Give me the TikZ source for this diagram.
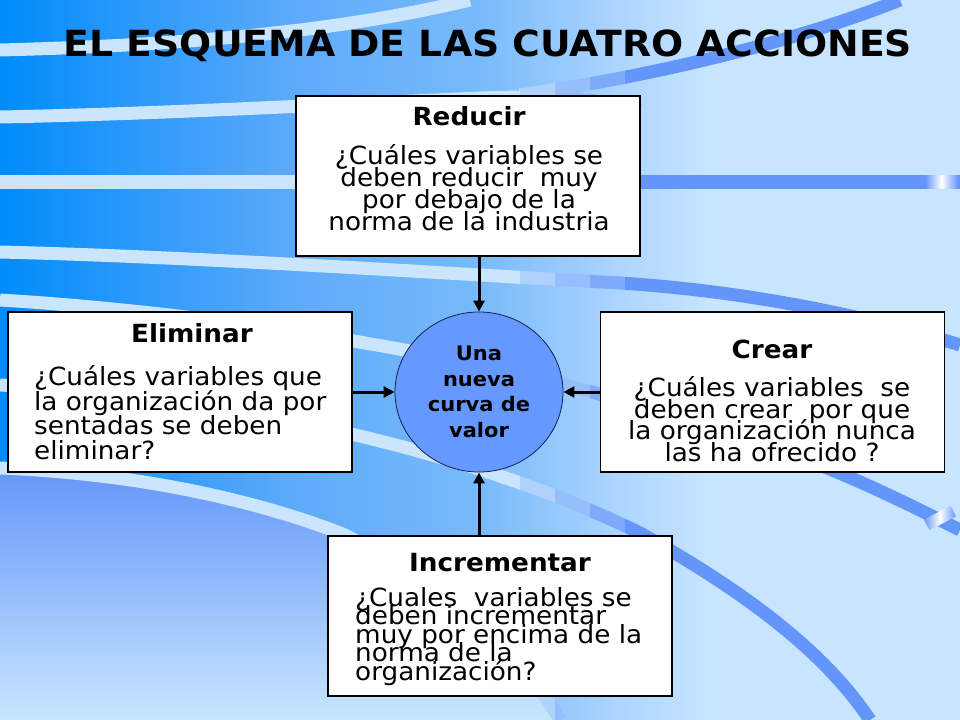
\documentclass[tikz,border=0pt]{standalone}
\usepackage{fontspec}
\setmainfont[FakeStretch=1.05]{DejaVu Sans}
\usetikzlibrary{arrows.meta,shapes.geometric}
\definecolor{bglight}{RGB}{200,230,255}
\definecolor{bandlight}{RGB}{202,229,252}
\definecolor{bandmid}{RGB}{100,150,250}
\definecolor{bandmixa}{RGB}{175,210,252}
\definecolor{bandmixb}{RGB}{150,190,252}
\definecolor{bandmixc}{RGB}{125,170,251}
\definecolor{lowtop}{RGB}{100,150,250}
\definecolor{circfill}{RGB}{102,153,255}
\definecolor{circline}{RGB}{20,30,80}
\pgfdeclarehorizontalshading{bgshade}{100bp}{rgb(0bp)=(0,0.55,0.98); rgb(25bp)=(0,0.55,0.98); rgb(33.3bp)=(0.2,0.61,0.98); rgb(40.6bp)=(0.37,0.67,0.98); rgb(50bp)=(0.47,0.73,0.98); rgb(57bp)=(0.67,0.83,1); rgb(62bp)=(0.78,0.9,1); rgb(100bp)=(0.78,0.9,1)}
\newcommand{\drawbands}[1]{%
  \draw[band,#1] (0,50) .. controls (150,46) and (320,36) .. (470,0);
  \draw[band,#1] (0,117) .. controls (150,114) and (300,106) .. (480,98) .. controls (560,95) and (600,100) .. (640,110);
  \draw[band,#1] (0,182) -- (960,182);
  \draw[band,#1] (0,252) .. controls (200,257) and (420,272) .. (620,283) .. controls (760,292) and (880,320) .. (960,345);
  \draw[band,#1] (0,300) .. controls (200,312) and (450,350) .. (620,400) .. controls (700,425) and (800,440) .. (900,450);
  \draw[band,#1] (0,385) .. controls (200,395) and (450,440) .. (640,533) .. controls (760,600) and (830,660) .. (870,720);
  \draw[band,#1] (0,468) .. controls (150,474) and (270,505) .. (345,535) .. controls (450,590) and (520,650) .. (560,720);
  \draw[band,#1] (520,95) .. controls (660,75) and (800,40) .. (900,0);
  \draw[band,#1] (780,450) .. controls (850,475) and (900,500) .. (960,530);
}
\begin{document}
\begin{tikzpicture}[x=1bp,y=-1bp,
  band/.style={line width=13bp},
  box/.style={draw=black,fill=white,line width=1.2bp,minimum width=344bp,minimum height=160bp,inner sep=0},
  valorbox/.style={ellipse,draw=circline,fill=circfill,line width=0.8bp,minimum width=168bp,minimum height=160bp,inner sep=0,align=center,
    font={\lineskiplimit=-50bp\bfseries\fontsize{20bp}{25.5bp}\selectfont}},
  arr/.style={line width=3bp,-{Triangle[length=11bp,width=11bp]}},
  txt/.style={inner sep=0,font=\fontsize{25bp}{22bp}\selectfont},
  head/.style={inner sep=0,font=\bfseries\fontsize{25bp}{22bp}\selectfont}]
\useasboundingbox (0,0) rectangle (960,720);
% background
\shade[shading=bgshade] (0,0) rectangle (960,720);
\shade[top color=lowtop,bottom color=bglight] (0,468) .. controls (150,474) and (270,505) .. (345,535) .. controls (450,590) and (520,650) .. (560,720) -- (0,720) -- cycle;
\begin{scope}
  \clip (0,0) rectangle (520,720);
  \drawbands{bandlight}
\end{scope}
\begin{scope}
  \clip (520,0) rectangle (555,720);
  \drawbands{bandmixa}
\end{scope}
\begin{scope}
  \clip (555,0) rectangle (590,720);
  \drawbands{bandmixb}
\end{scope}
\begin{scope}
  \clip (590,0) rectangle (625,720);
  \drawbands{bandmixc}
\end{scope}
\begin{scope}
  \clip (625,0) rectangle (960,720);
  \drawbands{bandmid}
\end{scope}
\shade[left color=bandmid,right color=bandmid,middle color=white] (925,175.5) rectangle (958,188.5);
\shade[left color=bandmid,right color=bandmid,middle color=white,shading angle=90,rotate around={27:(940,518)}] (925,512) rectangle (955,524);
% title
\node[inner sep=0,anchor=base,font=\bfseries\fontsize{36bp}{40bp}\selectfont] (title) at (488,57) {EL ESQUEMA DE LAS CUATRO ACCIONES};
% boxes
\node[box] (reducir) at (468,176) {};
\node[box] (elim) at (180,392) {};
\node[box] (crear) at (772.5,392) {};
\node[box] (incr) at (500,616) {};
\node[valorbox] (valor) at (479,392) {Una\\nueva\\curva de\\valor};
% arrows
\draw[arr] (valor.north |- reducir.south) -- (valor.north);
\draw[arr] (elim.east |- valor.west) -- (valor.west);
\draw[arr] (crear.west |- valor.east) -- (valor.east);
\draw[arr] (valor.south |- incr.north) -- (valor.south);
% Reducir
\node[head,anchor=base] (r0) at (469,126) {Reducir};
\node[txt,anchor=base] (r1) at (469,165) {¿Cuáles variables se};
\node[txt,anchor=base] (r2) at (469,187) {deben reducir\ \ muy};
\node[txt,anchor=base] (r3) at (469,208) {por debajo de la};
\node[txt,anchor=base] (r4) at (469,230) {norma de la industria};
% Eliminar
\node[head,anchor=base] (e0) at (192,342) {Eliminar};
\node[txt,anchor=base west] (e1) at (34,385) {¿Cuáles variables que};
\node[txt,anchor=base west] (e2) at (34,410) {la organización da por};
\node[txt,anchor=base west] (e3) at (34,434) {sentadas se deben};
\node[txt,anchor=base west] (e4) at (34,459) {eliminar?};
% Crear
\node[head,anchor=base] (c0) at (772,358) {Crear};
\node[txt,anchor=base] (c1) at (772,396) {¿Cuáles variables\ \ se};
\node[txt,anchor=base] (c2) at (772,418) {deben crear\ \ por que};
\node[txt,anchor=base] (c3) at (772,439) {la organización nunca};
\node[txt,anchor=base] (c4) at (772,461) {las ha ofrecido ?};
% Incrementar
\node[head,anchor=base] (i0) at (500,571) {Incrementar};
\node[txt,anchor=base west] (i1) at (355,606) {¿Cuales\ \ variables se};
\node[txt,anchor=base west] (i2) at (355,624) {deben incrementar};
\node[txt,anchor=base west] (i3) at (355,643) {muy por encima de la};
\node[txt,anchor=base west] (i4) at (355,661) {norma de la};
\node[txt,anchor=base west] (i5) at (355,680) {organización?};
\end{tikzpicture}
\end{document}
